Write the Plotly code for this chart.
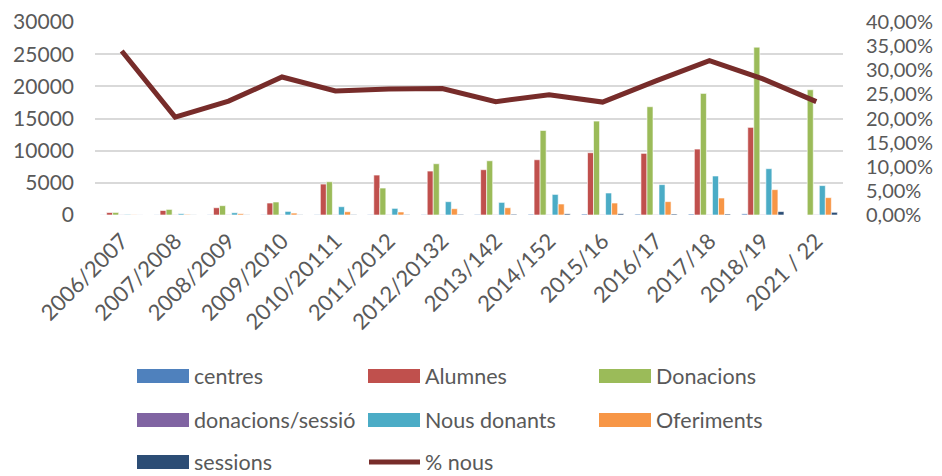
import plotly.graph_objects as go

categories = ["2006/2007", "2007/2008", "2008/2009", "2009/2010", "2010/20111", "2011/2012",
              "2012/20132", "2013/142", "2014/152", "2015/16", "2016/17", "2017/18", "2018/19", "2021 / 22"]

centres = [20, 30, 40, 50, 60, 70, 80, 90, 120, 150, 140, 150, 180, 0]
alumnes = [380, 700, 1130, 1860, 4810, 6210, 6830, 7040, 8590, 9680, 9580, 10250, 13620, 0]
donacions = [400, 870, 1450, 2020, 5170, 4190, 7970, 8430, 13140, 14600, 16830, 18900, 26090, 19470]
donacions_sessio = [30, 35, 40, 40, 45, 45, 50, 50, 55, 55, 60, 60, 60, 55]
nous_donants = [90, 200, 350, 560, 1290, 1030, 2070, 1960, 3200, 3420, 4720, 6060, 7200, 4570]
oferiments = [40, 100, 200, 300, 510, 470, 980, 1130, 1710, 1860, 2080, 2640, 3940, 2700]
sessions = [10, 20, 30, 40, 60, 80, 100, 120, 180, 200, 150, 150, 530, 420]
pct_nous = [0.340, 0.203, 0.236, 0.286, 0.257, 0.261, 0.262, 0.235, 0.249, 0.234, 0.278, 0.320, 0.282, 0.235]

bar_series = [
    ("centres", centres, "#4F81BD"),
    ("Alumnes", alumnes, "#C0504D"),
    ("Donacions", donacions, "#9BBB59"),
    ("donacions/sessió", donacions_sessio, "#8064A2"),
    ("Nous donants", nous_donants, "#4BACC6"),
    ("Oferiments", oferiments, "#F79646"),
    ("sessions", sessions, "#2C4D75"),
]
line_name = "% nous"
line_color = "#772C2A"

FONT = "Lato"
TXT = "#595959"
# the page body adds an 8px margin; size the figure so the plot lands where the reference has it
OFF = 8
W, H = 942 - OFF, 476 - OFF
PLOT_L, PLOT_R, PLOT_T, PLOT_B = 95, 843, 22, 215  # page pixels
L, T = PLOT_L - OFF, PLOT_T - OFF
R, B = (942 - PLOT_R), (476 - PLOT_B)
PW, PH = PLOT_R - PLOT_L, PLOT_B - PLOT_T

fig = go.Figure()
for name, vals, col in bar_series:
    fig.add_trace(go.Bar(x=categories, y=vals, name=name, marker=dict(color=col, line=dict(color="white", width=0.6)),
                         showlegend=False))
fig.add_trace(go.Scatter(x=categories, y=pct_nous, name=line_name, yaxis="y2", mode="lines",
                         line=dict(color=line_color, width=5), showlegend=False))


def px_x(x):
    return (x - PLOT_L) / PW


def px_y(y):
    return (PLOT_B - y) / PH


# manual legend (Excel-style wide swatches)
legend_items = [(n, c, "bar") for n, _, c in bar_series] + [(line_name, line_color, "line")]
col_x = [137, 368, 599]
row_y = [376, 420, 462]
shapes = []
annotations = []
for i, (name, col, kind) in enumerate(legend_items):
    cx = col_x[i % 3]
    cy = row_y[i // 3]
    if kind == "bar":
        shapes.append(dict(type="rect", xref="paper", yref="paper", x0=px_x(cx), x1=px_x(cx + 52),
                           y0=px_y(cy - 7), y1=px_y(cy + 7), fillcolor=col, line=dict(width=0)))
    else:
        shapes.append(dict(type="line", xref="paper", yref="paper", x0=px_x(cx + 1), x1=px_x(cx + 52),
                           y0=px_y(cy), y1=px_y(cy), line=dict(color=col, width=5)))
    annotations.append(dict(text=name, xref="paper", yref="paper", x=px_x(cx + 55), y=px_y(cy),
                            xanchor="left", yanchor="middle", showarrow=False,
                            font=dict(family=FONT, size=21.5, color=TXT)))

fig.update_layout(
    width=W, height=H,
    margin=dict(l=L, r=R, t=T, b=B, autoexpand=False),
    paper_bgcolor="white", plot_bgcolor="white",
    barmode="group", bargap=0.21, bargroupgap=0,
    separators=", ",
    font=dict(family=FONT, size=22, color=TXT),
    showlegend=False,
    xaxis=dict(type="category", tickangle=-45, showgrid=False, showline=False, ticks="", automargin=False,
               tickfont=dict(family=FONT, size=22, color=TXT), ticklabelstandoff=8),
    yaxis=dict(range=[0, 30000], tickvals=[0, 5000, 10000, 15000, 20000, 25000, 30000], tickformat="d",
               showgrid=True, gridcolor="#D9D9D9", gridwidth=1.5, zeroline=False, showline=False, automargin=False,
               ticks="", ticklabelstandoff=20, tickfont=dict(family=FONT, size=21, color=TXT)),
    yaxis2=dict(range=[0, 0.40], overlaying="y", side="right", tickvals=[i * 0.05 for i in range(9)],
                tickformat=".2%", showgrid=False, zeroline=False, showline=False, ticks="", automargin=False,
                ticklabelstandoff=22, tickfont=dict(family=FONT, size=20, color=TXT)),
    shapes=shapes,
    annotations=annotations,
)

fig.write_html("out.html")
